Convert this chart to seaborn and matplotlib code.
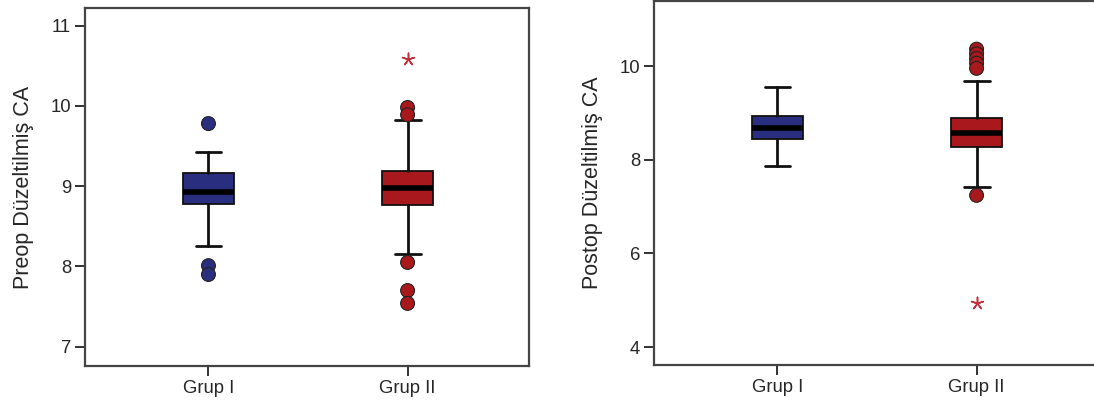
import matplotlib
matplotlib.use("Agg")
import matplotlib.pyplot as plt
import seaborn as sns
import pandas as pd

groups = ["Grup I", "Grup II"]
colors = ["#2a2e7e", "#a8181d"]
star_color = "#c0303a"

# box summaries: whislo, q1, med, q3, whishi
preop_stats = [[8.26, 8.78, 8.93, 9.16, 9.43],
               [8.16, 8.77, 8.98, 9.19, 9.83]]
preop_out = [[9.78, 8.01, 7.90],
             [9.98, 9.89, 8.05, 7.70, 7.54]]
preop_extreme = [[], [10.58]]

postop_stats = [[7.86, 8.44, 8.67, 8.93, 9.55],
                [7.41, 8.27, 8.57, 8.89, 9.68]]
postop_out = [[],
              [10.36, 10.26, 10.16, 10.06, 9.95, 7.24]]
postop_extreme = [[], [4.94]]

sns.set_style("white")
plt.rcParams["font.family"] = ["Liberation Sans", "DejaVu Sans"]

fig = plt.figure(figsize=(10.94, 4.05), dpi=100)
ax1 = fig.add_axes([0.0777, 0.0963, 0.4059, 0.884])
ax2 = fig.add_axes([0.5978, 0.0988, 0.4059, 0.899])


def draw_panel(ax, stats, outs, extremes, ylabel, ylim, yticks):
    bxp_stats = []
    for g, s in zip(groups, stats):
        bxp_stats.append(dict(label=g, whislo=s[0], q1=s[1], med=s[2],
                              q3=s[3], whishi=s[4], fliers=[]))
    parts = ax.bxp(bxp_stats, positions=[0, 1], widths=0.255,
                   patch_artist=True, showfliers=False,
                   boxprops=dict(edgecolor="#111111", linewidth=1.3),
                   medianprops=dict(color="black", linewidth=4),
                   whiskerprops=dict(color="#111111", linewidth=2),
                   capprops=dict(color="#111111", linewidth=2),
                   capwidths=0.13)
    for box, c in zip(parts["boxes"], colors):
        box.set_facecolor(c)

    rows = []
    for i, (o, e) in enumerate(zip(outs, extremes)):
        rows += [dict(x=i, y=v, kind="o") for v in o]
        rows += [dict(x=i, y=v, kind="*") for v in e]
    df = pd.DataFrame(rows)
    circ = df[df["kind"] == "o"]
    star = df[df["kind"] == "*"]
    sns.scatterplot(data=circ, x="x", y="y", hue="x",
                    palette={0: colors[0], 1: colors[1]},
                    s=100, edgecolor="#222222", linewidth=0.8,
                    legend=False, ax=ax, zorder=5)
    sns.scatterplot(data=star, x="x", y="y", marker=(5, 2, 0),
                    color=star_color, s=80, edgecolor=star_color,
                    linewidth=1.1, legend=False, ax=ax, zorder=5)

    ax.set_xlim(-0.62, 1.61)
    ax.set_ylim(*ylim)
    ax.set_xticks([0, 1])
    ax.set_xticklabels(groups)
    ax.set_yticks(yticks)
    ax.set_yticklabels([str(t) for t in yticks])
    ax.set_xlabel("")
    ax.set_ylabel(ylabel, fontsize=15.5, labelpad=12)
    ax.tick_params(axis="both", which="both", direction="out",
                   length=7, width=1.3, color="#222222",
                   labelsize=13.3, left=True, bottom=True, pad=3)
    for sp in ax.spines.values():
        sp.set_color("#444444")
        sp.set_linewidth(1.6)


draw_panel(ax1, preop_stats, preop_out, preop_extreme,
           "Preop Düzeltilmiş CA", (6.76, 11.22), [7, 8, 9, 10, 11])
draw_panel(ax2, postop_stats, postop_out, postop_extreme,
           "Postop Düzeltilmiş CA", (3.62, 11.39), [4, 6, 8, 10])

fig.savefig("out.png", dpi=100)
